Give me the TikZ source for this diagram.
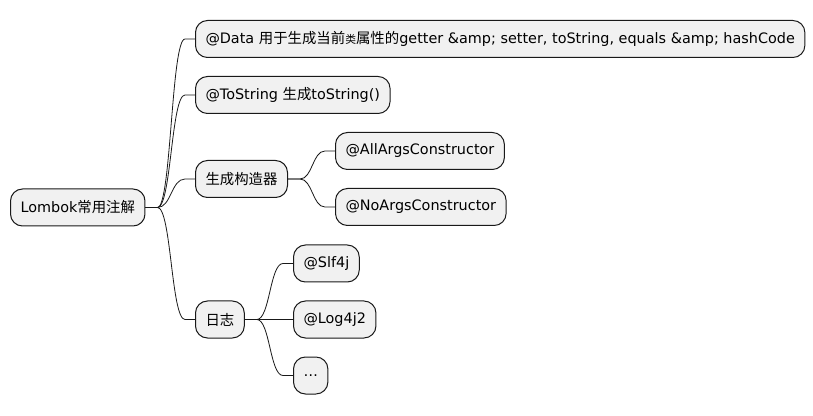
\documentclass[tikz,border=0pt]{standalone}
\usepackage{fontspec}
\usetikzlibrary{calc}
\setmainfont{DejaVu Sans}
\newfontfamily\cjk{Noto Sans CJK SC}
\newcommand{\zh}[1]{{\cjk #1}}
\newcommand{\zhs}[1]{{\cjk\fontsize{10.8}{12}\selectfont #1}}
\begin{document}
\begin{tikzpicture}[x=1pt,y=1pt,
  mm/.style={draw=black!90, fill=black!5.5, line width=1pt, rounded corners=12pt,
    minimum height=37pt, inner xsep=10pt, inner ysep=0pt, anchor=west,
    font=\fontsize{14.4}{16}\selectfont},
  conn/.style={line width=0.8pt, draw=black!90}]
\useasboundingbox (0,0) rectangle (813,415);
\node[mm] (root) at (10,207.5) {Lombok\zh{常用注解}};
\node[mm] (data) at (195,376) {@Data \zh{用于生成当前}\zhs{类}\zh{属性的}getter \&amp; setter, toString, equals \&amp; hashCode};
\node[mm] (tostr) at (195,320) {@ToString \zh{生成}toString()};
\node[mm] (ctor) at (195,236) {\zh{生成构造器}};
\node[mm] (all) at (335,264) {@AllArgsConstructor};
\node[mm] (noargs) at (335,208) {@NoArgsConstructor};
\node[mm] (log) at (195,95.5) {\zh{日志}};
\node[mm] (slf) at (293,151.5) {@Slf4j};
\node[mm] (l4j) at (293,95.5) {@Log4j2};
\node[mm] (dots) at (293,39.5) {…};
\foreach \pa/\ch in {root/data,root/tostr,root/ctor,root/log,ctor/all,ctor/noargs,log/slf,log/l4j,log/dots}{
  \draw[conn] let \p1=(\pa.east), \p2=(\ch.west) in
    (\p1) -- (\x1+12,\y1)
    .. controls ({0.5*(\x1+12)+0.5*(\x2-10)},\y1) and ({0.5*(\x1+12)+0.5*(\x2-10)},\y2) ..
    (\x2-10,\y2) -- (\p2);
}
\end{tikzpicture}
\end{document}
